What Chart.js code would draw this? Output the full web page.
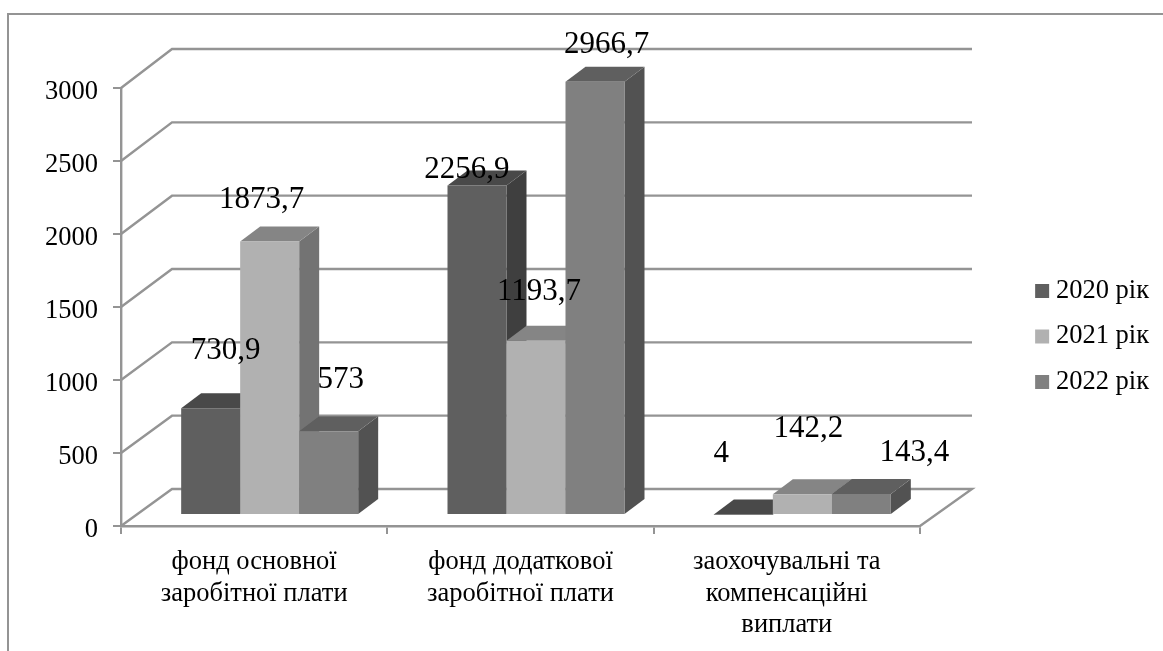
<!DOCTYPE html>
<html>
<head>
<meta charset="utf-8">
<script src="https://cdn.jsdelivr.net/npm/chart.js@4"></script>
<style>
  body { margin: 0; background: #fff; }
  canvas { display: block; }
</style>
</head>
<body>
<canvas id="chart" width="1163" height="651"></canvas>
<script>
const categories = [
  ['фонд основної', 'заробітної плати'],
  ['фонд додаткової', 'заробітної плати'],
  ['заохочувальні та', 'компенсаційні', 'виплати']
]
const seriesNames = ['2020 рік', '2021 рік', '2022 рік']
const values2020 = [730.9, 2256.9, 4]
const values2021 = [1873.7, 1193.7, 142.2]
const values2022 = [573, 2966.7, 143.4]
const yTicks = [0, 500, 1000, 1500, 2000, 2500, 3000]

const serif = 'Liberation Serif'
const lineGray = '#949494'

// colours of the bar faces: front, top, side
const faces = [
  ['#5f5f5f', '#494949', '#3f3f3f'],
  ['#b1b1b1', '#858585', '#737373'],
  ['#808080', '#5f5f5f', '#525252']
]

// where each value label sits, relative to the top centre of its bar
const labelShift = [
  [[15, -57], [-10, -16], [-22, -61]],
  [[-8, -42], [3, -49], [6, -65]],
  [[12, -51], [11.5, -37], [53, -41]]
]

// the "3d" look: bars sit behind the front plane, walls go up to the back plane
const barDx = 15.5, barDy = -11
const faceDx = 20, faceDy = -15
const wallDx = 51

function poly(ctx, color, pts) {
  ctx.fillStyle = color
  ctx.beginPath()
  pts.forEach((p, i) => i ? ctx.lineTo(p[0], p[1]) : ctx.moveTo(p[0], p[1]))
  ctx.closePath()
  ctx.fill()
}

function drawWalls(chart) {
  const ctx = chart.ctx
  const y = chart.scales.y
  const left = chart.chartArea.left
  const right = chart.chartArea.right
  ctx.save()
  ctx.strokeStyle = lineGray
  ctx.lineWidth = 2.4
  yTicks.forEach(t => {
    const py = y.getPixelForValue(t)
    const back = py - 37 - 2 * t / 3000
    ctx.beginPath()
    ctx.moveTo(left, py)
    ctx.lineTo(left + wallDx, back)
    ctx.lineTo(right + wallDx + 1, back)
    if (t === 0) ctx.lineTo(right, py)
    ctx.stroke()
  })
  ctx.restore()
}

function drawLabels(chart) {
  const ctx = chart.ctx
  ctx.save()
  ctx.font = '31px "' + serif + '"'
  ctx.fillStyle = '#000'
  ctx.textAlign = 'center'
  ctx.textBaseline = 'middle'
  chart.data.datasets.forEach((ds, i) => {
    chart.getDatasetMeta(i).data.forEach((bar, j) => {
      const text = String(ds.data[j]).replace('.', ',')
      ctx.fillText(text, bar.x + barDx + labelShift[i][j][0], bar.y + barDy + labelShift[i][j][1])
    })
  })
  ctx.restore()
}

const threeD = {
  id: 'threeD',
  beforeDraw(chart) {
    // frame of the original, cropped at right and bottom
    const ctx = chart.ctx
    ctx.save()
    ctx.strokeStyle = lineGray
    ctx.lineWidth = 2
    ctx.beginPath()
    ctx.moveTo(8, 651)
    ctx.lineTo(8, 14)
    ctx.lineTo(1163, 14)
    ctx.stroke()
    ctx.restore()
  },
  beforeDatasetsDraw(chart) {
    const ctx = chart.ctx
    drawWalls(chart)
    // left to right, each bar covers the side of the one before it
    chart.data.datasets.forEach((ds, i) => {
      const meta = chart.getDatasetMeta(i)
      const f = faces[i]
      ctx.save()
      ctx.translate(barDx, barDy)
      meta.data.forEach(bar => {
        const l = bar.x - bar.width / 2
        const r = bar.x + bar.width / 2
        poly(ctx, f[2], [[r, bar.y], [r + faceDx, bar.y + faceDy], [r + faceDx, bar.base + faceDy], [r, bar.base]])
        poly(ctx, f[1], [[l, bar.y], [l + faceDx, bar.y + faceDy], [r + faceDx, bar.y + faceDy], [r, bar.y]])
      })
      meta.controller.draw()
      ctx.restore()
    })
    drawLabels(chart)
    return false
  }
}

function makeDataset(i, values) {
  return {
    label: seriesNames[i],
    data: values,
    backgroundColor: faces[i][0]
  }
}

new Chart(document.getElementById('chart'), {
  type: 'bar',
  plugins: [threeD],
  data: {
    labels: categories,
    datasets: [makeDataset(0, values2020), makeDataset(1, values2021), makeDataset(2, values2022)]
  },
  options: {
    responsive: false,
    animation: false,
    layout: { padding: { top: 22, right: 4, bottom: 0, left: 0 } },
    datasets: { bar: { barPercentage: 1, categoryPercentage: 0.6646 } },
    plugins: {
      tooltip: { enabled: false },
      legend: {
        position: 'right',
        labels: {
          color: '#000',
          font: { family: serif, size: 26.5 },
          usePointStyle: true,
          pointStyle: 'rect',
          boxWidth: 1,
          boxHeight: 14,
          padding: 19
        }
      }
    },
    scales: {
      x: {
        afterFit(s) { s.height = 125 },
        grid: { drawOnChartArea: false, color: lineGray, lineWidth: 2, tickLength: 8, offset: true },
        border: { color: lineGray, width: 2.4 },
        ticks: {
          color: '#000',
          font: { family: serif, size: 26.5, lineHeight: 1.2 },
          padding: 12,
          maxRotation: 0,
          autoSkip: false
        }
      },
      y: {
        min: 0,
        max: 3000,
        afterFit(s) { s.width = 121 },
        grid: { drawOnChartArea: false, color: lineGray, lineWidth: 2, tickLength: 8 },
        border: { color: lineGray, width: 2.4 },
        ticks: {
          color: '#000',
          font: { family: serif, size: 26.5 },
          padding: 15,
          stepSize: 500,
          labelOffset: 4,
          callback: v => v
        }
      },
      // empty axes, they only keep room: plot to legend, and above the plot
      gap: {
        type: 'linear',
        axis: 'y',
        position: 'right',
        afterFit(s) { s.width = s.chart.width - 920 - s.chart.legend.width - 4 },
        grid: { display: false },
        border: { display: false },
        ticks: { display: false }
      },
      gapTop: {
        type: 'linear',
        axis: 'x',
        position: 'top',
        afterFit(s) { s.height = 66 },
        grid: { display: false },
        border: { display: false },
        ticks: { display: false }
      }
    }
  }
})
</script>
</body>
</html>
